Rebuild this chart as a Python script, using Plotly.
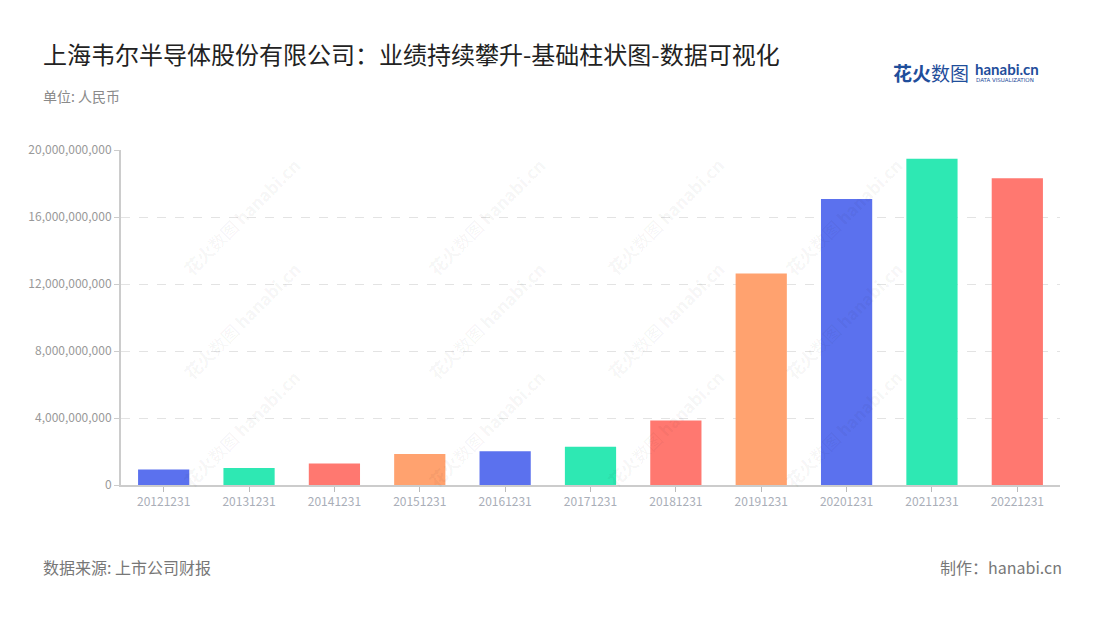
import plotly.graph_objects as go

categories = ["20121231", "20131231", "20141231", "20151231", "20161231", "20171231",
              "20181231", "20191231", "20201231", "20211231", "20221231"]
values = [0.93e9, 1.01e9, 1.29e9, 1.85e9, 2.01e9, 2.28e9,
          3.85e9, 12.62e9, 17.07e9, 19.48e9, 18.31e9]
palette = ["#5B71EE", "#2EE8B3", "#FF7870", "#FFA26F"]
bar_colors = [palette[i % 4] for i in range(len(categories))]
tick_vals = [0, 4e9, 8e9, 12e9, 16e9, 20e9]
tick_text = ["0", "4,000,000,000", "8,000,000,000", "12,000,000,000", "16,000,000,000", "20,000,000,000"]

title_text = "上海韦尔半导体股份有限公司：业绩持续攀升-基础柱状图-数据可视化"
unit_text = "单位: 人民币"
source_text = "数据来源: 上市公司财报"
maker_text = "制作：hanabi.cn"

FONT = "Noto Sans CJK SC, Noto Sans, sans-serif"

# page offset (browser body margin) compensation
OFF = 8
PL, PR, PT, PB = 121, 1060, 150, 485  # plot area in page pixels

fig = go.Figure()
fig.add_trace(go.Bar(
    x=categories, y=values,
    marker=dict(color=bar_colors, line=dict(width=0)),
    width=0.6,
    hoverinfo="x+y",
))

fig.update_layout(
    width=1100, height=620,
    margin=dict(l=PL - OFF, r=1100 - (PR - OFF), t=PT - OFF, b=620 - (PB - OFF), pad=0),
    paper_bgcolor="white", plot_bgcolor="white",
    font=dict(family=FONT, color="#999"),
    showlegend=False,
    xaxis=dict(
        type="category",
        showline=True, linecolor="#cccccc", linewidth=2,
        ticks="outside", ticklen=5, tickcolor="#bbbbbb",
        tickfont=dict(size=12, color="#a9aeb8", family=FONT),
        showgrid=False, zeroline=False,
    ),
    yaxis=dict(
        range=[0, 20e9], tickvals=tick_vals, ticktext=tick_text,
        showline=True, linecolor="#cccccc", linewidth=2,
        ticks="outside", ticklen=5, tickcolor="#cccccc",
        tickfont=dict(size=12, color="#999999", family=FONT),
        showgrid=True, gridcolor="#e3e3e3", griddash="dash", gridwidth=1,
        zeroline=False,
    ),
)


def px_x(x):
    return (x - PL) / (PR - PL)


def px_y(y):
    return (PB - y) / (PB - PT)


texts = [
    dict(text=title_text, x=px_x(41), y=px_y(53), xanchor="left", yanchor="middle",
         font=dict(size=24, color="#222222", family=FONT)),
    dict(text=unit_text, x=px_x(41), y=px_y(96), xanchor="left", yanchor="middle",
         font=dict(size=14, color="#8a8a8a", family=FONT)),
    dict(text=source_text, x=px_x(41), y=px_y(567), xanchor="left", yanchor="middle",
         font=dict(size=16, color="#777777", family=FONT)),
    dict(text=maker_text, x=px_x(1064), y=px_y(567), xanchor="right", yanchor="middle",
         font=dict(size=16, color="#777777", family=FONT)),
    dict(text="<b>花火</b>数图", x=px_x(891), y=px_y(72), xanchor="left", yanchor="middle",
         font=dict(size=19, color="#1F4E9B", family=FONT)),
    dict(text="<b>hanabi.cn</b>", x=px_x(973), y=px_y(69), xanchor="left", yanchor="middle",
         font=dict(size=15, color="#1F4E9B", family="Lato, sans-serif")),
    dict(text="DATA VISUALIZATION", x=px_x(974), y=px_y(80), xanchor="left", yanchor="middle",
         font=dict(size=5.5, color="#1F4E9B", family="DejaVu Sans")),
]
for t in texts:
    t.update(xref="paper", yref="paper", showarrow=False)
    fig.add_annotation(**t)

# faint diagonal watermarks
wm_positions = [(175, 150), (420, 150), (665, 150), (910, 150),
                (175, 320), (420, 320), (665, 320), (910, 320),
                (175, 495), (420, 495), (665, 495), (910, 495)]
for (wx, wy) in wm_positions:
    fig.add_annotation(text="<b>花火</b>数图 <b>hanabi.cn</b>", x=px_x(wx), y=px_y(wy),
                       xref="paper", yref="paper", showarrow=False, textangle=-45,
                       font=dict(size=17, color="rgba(0,0,0,0.05)", family=FONT))

fig.write_html("out.html")
